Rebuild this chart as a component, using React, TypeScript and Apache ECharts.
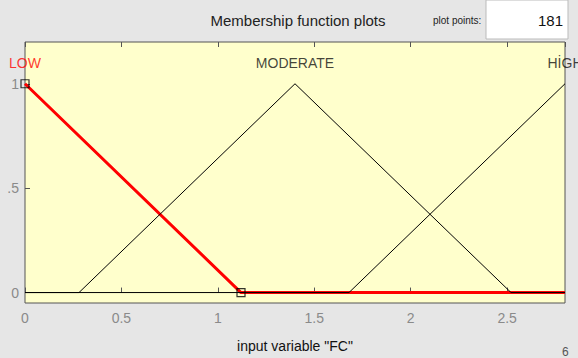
import React, { useEffect, useRef } from "react";
import * as echarts from "echarts";

const xTicks = [0, 0.5, 1, 1.5, 2, 2.5];
const yTicks = [0, 0.5, 1];
const mfNames = ["LOW", "MODERATE", "HİGH"];
const mfPeaks = [0, 1.4, 2.8];
const lowMF: [number, number][] = [[0, 1], [1.12, 0], [2.8, 0]];
const moderateMF: [number, number][] = [[0, 0], [0.28, 0], [1.4, 1], [2.52, 0], [2.8, 0]];
const highMF: [number, number][] = [[0, 0], [1.68, 0], [2.8, 1]];
const selectedVertices: [number, number][] = [[0, 1], [1.12, 0]];
const plotPoints = "181";

export default function App() {
  const ref = useRef<HTMLDivElement>(null);
  useEffect(() => {
    if (!ref.current) return;
    const chart = echarts.init(ref.current, undefined, { renderer: "svg" });
    const font = "'Liberation Sans', Arial, sans-serif";
    const tickGrey = "#8a8a8a";
    chart.setOption({
      animation: false,
      backgroundColor: "#e6e6e6",
      textStyle: { fontFamily: font },
      grid: {
        left: 25, right: 13, top: 42, bottom: 47,
        show: true, backgroundColor: "#ffffcc", borderColor: "#555", borderWidth: 1,
      },
      xAxis: [
        {
          type: "value", min: 0, max: 2.8, interval: 0.5,
          axisLine: { show: false },
          axisTick: { show: true, inside: true, length: 5, lineStyle: { color: "#555" } },
          splitLine: { show: false },
          axisLabel: {
            color: tickGrey, fontSize: 14, margin: 8, fontFamily: font,
            showMaxLabel: false,
            formatter: (v: number) => (xTicks.includes(v) ? String(v) : ""),
          },
          name: 'input variable "FC"', nameLocation: "middle", nameGap: 36,
          nameTextStyle: { color: "#111", fontSize: 14, fontFamily: font },
        },
        {
          type: "value", min: 0, max: 2.8, interval: 0.5, position: "top",
          axisLine: { show: false },
          axisTick: { show: true, inside: true, length: 5, lineStyle: { color: "#555" } },
          splitLine: { show: false },
          axisLabel: { show: false },
        },
      ],
      yAxis: {
        type: "value", min: -0.05, max: 1.2,
        axisLine: { show: false },
        axisTick: { show: true, inside: true, length: 5, customValues: yTicks, lineStyle: { color: "#555" } },
        splitLine: { show: false },
        axisLabel: {
          color: tickGrey, fontSize: 14, margin: 6, fontFamily: font,
          customValues: yTicks,
          formatter: (v: number) => (v === 0.5 ? ".5" : String(v)),
        },
      },
      title: [
        {
          text: "Membership function plots", left: 293, top: 8, textAlign: "center",
          textStyle: { color: "#222", fontSize: 15, fontWeight: "normal", fontFamily: font },
        },
        {
          text: "plot points:", left: 428, top: 10,
          textStyle: { color: "#222", fontSize: 10, fontWeight: "normal", fontFamily: font },
        },
        {
          text: "6", left: 557, top: 341,
          textStyle: { color: "#555", fontSize: 12, fontWeight: "normal", fontFamily: font },
        },
      ],
      graphic: [
        {
          type: "rect", shape: { x: 486, y: 0, width: 82, height: 39 },
          style: { fill: "#ffffff", stroke: "#bbbbbb", lineWidth: 1 },
        },
        {
          type: "text", x: 563, y: 20,
          style: { text: plotPoints, fill: "#111", font: `15px ${font}`, align: "right", verticalAlign: "middle" },
        },
      ],
      series: [
        {
          type: "line", name: mfNames[0], data: lowMF, showSymbol: false, z: 2,
          lineStyle: { color: "#ff0000", width: 3 }, itemStyle: { color: "#ff0000" },
        },
        {
          type: "line", name: mfNames[1], data: moderateMF, showSymbol: false, z: 3,
          lineStyle: { color: "#000", width: 1 }, itemStyle: { color: "#000" },
        },
        {
          type: "line", name: mfNames[2], data: highMF, showSymbol: false, z: 3,
          lineStyle: { color: "#000", width: 1 }, itemStyle: { color: "#000" },
        },
        {
          type: "scatter", data: selectedVertices, symbol: "rect", symbolSize: 8, z: 4,
          itemStyle: { color: "rgba(0,0,0,0)", borderColor: "#000", borderWidth: 1.2 },
        },
        {
          type: "scatter", clip: false, symbolSize: 0, z: 5,
          data: mfNames.map((n, i) => ({
            value: [mfPeaks[i], 1.1],
            label: {
              show: true, position: "inside", formatter: n, fontSize: 14, fontFamily: font,
              color: i === 0 ? "#ff0000" : "#111",
            },
          })),
        },
      ],
    });
    return () => chart.dispose();
  }, []);
  return (
    <div
      ref={ref}
      style={{ position: "absolute", left: 0, top: 0, width: 578, height: 358 }}
    />
  );
}
